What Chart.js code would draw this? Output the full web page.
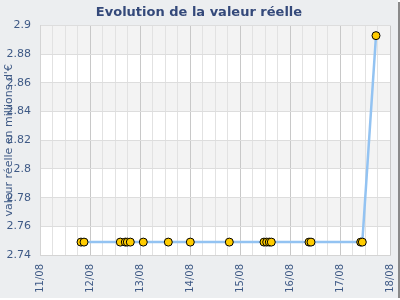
<!DOCTYPE html>
<html>
<head>
<meta charset="utf-8">
<script src="https://cdn.jsdelivr.net/npm/chart.js@4"></script>
<style>
  html, body { margin:0; padding:0; background:#fff; }
  #wrap { width:398px; height:298px; background:#eceef0; box-shadow:2px 2px 0 #8a8a8a; }
  canvas { display:block; }
</style>
</head>
<body>
<div id="wrap"><canvas id="chart" width="398" height="298"></canvas></div>
<script>
// x = day of August (fractional), y = value in millions of euros
const dayLabels = ['11/08','12/08','13/08','14/08','15/08','16/08','17/08','18/08'];
const pointDays = [11.82, 11.88, 12.606, 12.706, 12.746, 12.806, 13.066, 13.566, 14.006,
                   14.786, 15.48, 15.534, 15.586, 15.626, 16.38, 16.42, 17.414, 17.446, 17.72];
const values = [2.749, 2.749, 2.749, 2.749, 2.749, 2.749, 2.749, 2.749, 2.749,
                2.749, 2.749, 2.749, 2.749, 2.749, 2.749, 2.749, 2.749, 2.749, 2.893];
const yTitle = "valeur réelle en millions d'€";

const TEXT = '#3f5a86';

// alternating grey bands behind the plot
const bands = {
  id:'bands',
  beforeDraw(chart){
    const {ctx, chartArea:a, scales:{y}} = chart;
    ctx.save();
    ctx.fillStyle = '#ffffff';
    ctx.fillRect(a.left, a.top, a.right-a.left, a.bottom-a.top);
    ctx.fillStyle = '#f3f3f3';
    let i = 0;
    for(let v = y.min; v < y.max - 1e-9; v += 0.02, i++){
      if(i % 2 === 1){
        const y0 = y.getPixelForValue(v), y1 = y.getPixelForValue(v + 0.02);
        ctx.fillRect(a.left, y1, a.right-a.left, y0-y1);
      }
    }
    ctx.restore();
  }
};

// y title sits over the tick labels, like the original
const yLabel = {
  id:'yLabel',
  afterDraw(chart){
    const {ctx, chartArea:a} = chart;
    ctx.save();
    ctx.translate(9, (a.top + a.bottom)/2);
    ctx.rotate(-Math.PI/2);
    ctx.font = '11px "DejaVu Sans"';
    ctx.fillStyle = TEXT;
    ctx.textAlign = 'center';
    ctx.textBaseline = 'middle';
    ctx.fillText(yTitle, 0, 0);
    ctx.restore();
  }
};

new Chart(document.getElementById('chart'), {
  type:'line',
  data:{
    datasets:[{
      data: pointDays.map((d,i)=>({x:d, y:values[i]})),
      borderColor:'#93c3f2',
      borderWidth:2.5,
      pointRadius:4,
      pointBackgroundColor:'#ffcc00',
      pointBorderColor:'#000',
      pointBorderWidth:1,
      tension:0
    }]
  },
  options:{
    responsive:false,
    animation:false,
    events:[],
    layout:{ padding:{ left:0, right:0, top:0, bottom:0 } },
    plugins:{
      legend:{ display:false },
      tooltip:{ enabled:false },
      title:{
        display:true,
        text:'Evolution de la valeur réelle',
        color:'#34497a',
        font:{ family:'DejaVu Sans', size:13, weight:'bold' },
        padding:{ top:5, bottom:5 }
      }
    },
    scales:{
      x:{
        type:'linear', min:11, max:18,
        afterFit(s){ s.height = 43; s.paddingRight = 8; },
        grid:{
          color: c => Number.isInteger(c.tick.value) ? '#c8c8c8' : '#e2e2e2',
          drawTicks:false
        },
        border:{ color:'#d4d4d4' },
        ticks:{
          stepSize:0.25, autoSkip:false, maxRotation:90, minRotation:90, padding:9,
          color:TEXT, font:{ family:'DejaVu Sans', size:10 },
          callback: v => Number.isInteger(v) ? dayLabels[v-11] : ''
        }
      },
      y:{
        min:2.74, max:2.9,
        afterFit(s){ s.width = 40; },
        grid:{ color:'#dddddd', drawTicks:false },
        border:{ color:'#d4d4d4' },
        ticks:{
          stepSize:0.02, padding:9,
          color:TEXT, font:{ family:'DejaVu Sans', size:11 },
          callback: v => String(Number(v.toFixed(2)))
        }
      }
    }
  },
  plugins:[bands, yLabel]
});
</script>
</body>
</html>
